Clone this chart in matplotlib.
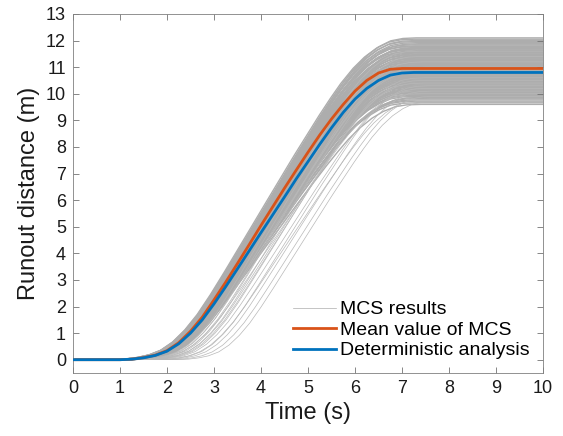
import matplotlib.pyplot as plt
import numpy as np

plt.rcParams["font.family"] = ["Liberation Sans", "DejaVu Sans"]

# Deterministic analysis curve (time s, runout m)
det_t = [0.0, 0.5, 1.0, 1.25, 1.5, 1.75, 2.0, 2.25, 2.5, 2.75, 3.0, 3.25, 3.5,
         3.75, 4.0, 4.25, 4.5, 4.75, 5.0, 5.25, 5.5, 5.75, 6.0, 6.25, 6.5,
         6.75, 7.0, 7.25, 8.0, 9.0, 10.0]
det_d = [0.0, 0.0, 0.0, 0.02, 0.07, 0.16, 0.32, 0.6, 1.0, 1.5, 2.1, 2.75, 3.42,
         4.1, 4.78, 5.45, 6.12, 6.8, 7.45, 8.1, 8.72, 9.3, 9.8, 10.2, 10.5,
         10.7, 10.78, 10.8, 10.8, 10.8, 10.8]

# Mean value of the MCS runs
mean_t = [0.0, 0.5, 1.0, 1.25, 1.5, 1.75, 2.0, 2.25, 2.5, 2.75, 3.0, 3.25, 3.5,
          3.75, 4.0, 4.25, 4.5, 4.75, 5.0, 5.25, 5.5, 5.75, 6.0, 6.25, 6.5,
          6.75, 7.0, 8.0, 9.0, 10.0]
mean_d = [0.0, 0.0, 0.0, 0.02, 0.08, 0.17, 0.34, 0.64, 1.07, 1.6, 2.25, 2.92, 3.62,
          4.33, 5.05, 5.75, 6.45, 7.13, 7.8, 8.45, 9.05, 9.6, 10.1, 10.5, 10.78,
          10.92, 10.95, 10.95, 10.95, 10.95]

# MCS runs, estimated from the grey band: final runout (m), delay of onset (s),
# speed relative to the deterministic run
mcs_final = [9.60, 9.66, 9.72, 9.77, 9.82, 9.86, 9.90, 9.94, 9.98, 10.02,
             10.05, 10.08, 10.12, 10.15, 10.18, 10.21, 10.24, 10.27, 10.30, 10.33,
             10.36, 10.39, 10.41, 10.44, 10.47, 10.50, 10.52, 10.55, 10.57, 10.60,
             10.62, 10.65, 10.67, 10.70, 10.72, 10.74, 10.77, 10.79, 10.81, 10.84,
             10.86, 10.88, 10.91, 10.93, 10.95, 10.98, 11.00, 11.02, 11.05, 11.07,
             11.09, 11.12, 11.14, 11.16, 11.19, 11.21, 11.24, 11.26, 11.29, 11.31,
             11.34, 11.36, 11.39, 11.42, 11.44, 11.47, 11.50, 11.53, 11.56, 11.59,
             11.62, 11.65, 11.68, 11.71, 11.74, 11.77, 11.80, 11.84, 11.88, 11.92,
             11.96, 12.00, 12.05, 12.10, 10.00, 10.40, 10.80, 11.20, 11.60, 10.60,
             9.80, 10.20, 10.90, 11.40, 9.70, 10.10, 10.50, 11.00, 10.30, 9.90]
mcs_delay = [0.1, -0.05, 0.05, 0.15, 0.0, 0.1, -0.1, 0.05, 0.2, 0.0,
             0.1, -0.05, 0.15, 0.05, 0.0, 0.1, -0.1, 0.2, 0.05, 0.0,
             -0.05, 0.1, 0.15, 0.0, 0.05, -0.1, 0.1, 0.0, 0.2, 0.05,
             -0.05, 0.1, 0.0, 0.15, -0.1, 0.05, 0.0, 0.1, -0.05, 0.15,
             0.0, 0.05, -0.1, 0.1, 0.0, -0.05, 0.15, 0.05, -0.1, 0.0,
             0.1, -0.05, 0.05, -0.15, 0.0, 0.1, -0.1, 0.05, 0.0, -0.05,
             0.1, -0.1, 0.0, 0.05, -0.15, 0.0, 0.1, -0.05, 0.0, -0.1,
             0.05, -0.15, 0.0, -0.05, 0.1, -0.1, 0.0, -0.15, 0.05, -0.05,
             -0.1, 0.0, -0.15, -0.05, 0.35, 0.5, 0.3, 0.45, 0.3, 0.6,
             0.75, 0.65, 0.4, 0.35, 1.2, 0.9, 0.55, 0.5, 0.8, 1.05]
mcs_speed = [1.0, 0.99, 1.01, 1.02, 0.99, 1.0, 0.98, 1.01, 1.03, 1.0,
             1.01, 0.99, 1.02, 1.0, 0.99, 1.01, 0.98, 1.03, 1.0, 0.99,
             0.99, 1.01, 1.02, 1.0, 1.0, 0.98, 1.01, 1.0, 1.03, 1.0,
             0.99, 1.01, 1.0, 1.02, 0.98, 1.0, 1.0, 1.01, 0.99, 1.02,
             1.0, 1.0, 0.98, 1.01, 1.0, 0.99, 1.02, 1.0, 0.98, 1.0,
             1.01, 0.99, 1.0, 0.98, 1.0, 1.01, 0.99, 1.0, 1.0, 0.99,
             1.01, 0.99, 1.0, 1.0, 0.98, 1.0, 1.01, 0.99, 1.0, 0.99,
             1.0, 0.98, 1.0, 0.99, 1.01, 0.99, 1.0, 0.98, 1.0, 0.99,
             0.99, 1.0, 0.98, 0.99, 1.04, 1.06, 1.03, 1.05, 1.04, 1.07,
             1.08, 1.07, 1.05, 1.04, 1.15, 1.1, 1.06, 1.05, 1.09, 1.12]

ONSET = 1.2  # time the deterministic run starts to move

fig = plt.figure(figsize=(5.63, 4.36), dpi=100)
ax = fig.add_axes([0.1297, 0.1445, 0.8348, 0.8235])

t = np.linspace(0, 10, 501)
det_final = det_d[-1]
for i, (F, s, k) in enumerate(zip(mcs_final, mcs_delay, mcs_speed)):
    tau = ONSET + (t - ONSET - s) * k
    d = np.interp(tau, det_t, det_d) * F / det_final
    late = s > 0.25  # isolated late runs show up as faint single lines
    ax.plot(t, d, color="0.72" if late else "0.68", lw=0.5 if late else 1.0,
            zorder=1, label="MCS results" if i == 0 else None)

ax.plot(mean_t, mean_d, color="#D95319", lw=2, zorder=3, label="Mean value of MCS")
ax.plot(det_t, det_d, color="#0072BD", lw=2, zorder=4, label="Deterministic analysis")

ax.set_xlim(0, 10)
ax.set_ylim(-0.5, 13)
ax.set_xticks(range(0, 11))
ax.set_yticks(range(0, 14))
ax.tick_params(direction="in", top=True, right=True, length=4, width=0.6,
               color="0.45", labelsize=13, labelcolor="0.1", pad=5)
for sp in ax.spines.values():
    sp.set_color("0.5")
    sp.set_linewidth(0.6)
ax.set_xlabel("Time (s)", fontsize=17, color="0.1", labelpad=4)
ax.set_ylabel("Runout distance (m)", fontsize=17, color="0.1", labelpad=4)

leg = ax.legend(loc="lower right", frameon=False, fontsize=14, handlelength=2.2,
                handletextpad=0.2, labelspacing=0.15, borderaxespad=0.3)
leg.get_lines()[0].set_linewidth(0.5)

fig.savefig("out.png", dpi=100)
